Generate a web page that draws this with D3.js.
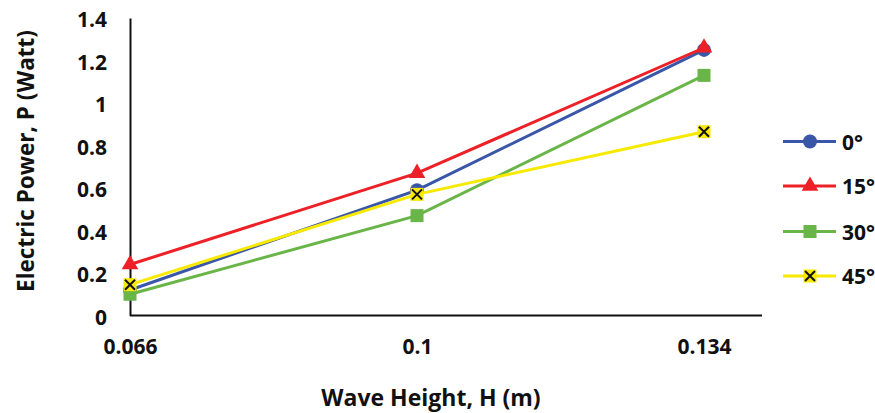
<!DOCTYPE html>
<html><head><meta charset="utf-8">
<script src="https://cdn.jsdelivr.net/npm/d3@7"></script>
<style>body{margin:0;background:#fff}svg{display:block}text{font-family:"Open Sans",Lato,sans-serif;font-weight:bold;fill:#111}</style>
</head><body><svg id="c" width="875" height="413"></svg>
<script>
const categories = ["0.066", "0.1", "0.134"];
const seriesNames = ["0°", "15°", "30°", "45°"];
const values0 = [0.12, 0.59, 1.25];
const values15 = [0.24, 0.67, 1.26];
const values30 = [0.10, 0.47, 1.13];
const values45 = [0.145, 0.57, 0.865];
const yTicks = [0, 0.2, 0.4, 0.6, 0.8, 1, 1.2, 1.4];
const colors = ["#3a56a8", "#ee2027", "#6ab547", "#f7ea00"];
const markers = ["circle", "triangle", "square", "x"];
const allValues = [values0, values15, values30, values45];

(function () {
const svg = d3.select("#c");
const mLeft = 130, mRight = 762, mTop = 18, mBottom = 315.5;
const x = d3.scalePoint().domain(categories).range([mLeft, 704]);
const y = d3.scaleLinear().domain([0, 1.4]).range([mBottom, mTop]);
const FF = '"Open Sans",Lato,sans-serif';

const yAxis = svg.append("g").attr("transform", `translate(${mLeft},0)`)
  .call(d3.axisLeft(y).tickValues(yTicks).tickSize(0).tickPadding(23).tickFormat(d => String(+d.toFixed(1))));
yAxis.select(".domain").attr("stroke", "#111").attr("stroke-width", 2);
yAxis.selectAll("text").attr("font-size", 21).attr("dy", "0.42em").style("font-family", FF).style("font-weight", "bold").attr("fill", "#111");

const xAxis = svg.append("g").attr("transform", `translate(0,${mBottom})`)
  .call(d3.axisBottom(x).tickSize(0).tickPadding(24));
xAxis.select(".domain").attr("d", `M${mLeft},0H${mRight}`).attr("stroke", "#111").attr("stroke-width", 2);
xAxis.selectAll("text").attr("font-size", 21).style("font-family", FF).style("font-weight", "bold").attr("fill", "#111");

svg.append("text").attr("x", 431).attr("y", 406).attr("text-anchor", "middle").attr("font-size", 23).text("Wave Height, H (m)");
svg.append("text").attr("transform", "translate(34,161) rotate(-90)").attr("text-anchor", "middle").attr("font-size", 22.5).text("Electric Power, P (Watt)");

function drawMarker(g, type, color) {
  if (type === "circle") g.append("circle").attr("r", 7).attr("fill", color);
  else if (type === "triangle") g.append("path").attr("d", d3.symbol(d3.symbolTriangle, 120)()).attr("fill", color);
  else if (type === "square") g.append("rect").attr("x", -6.5).attr("y", -6.5).attr("width", 13).attr("height", 13).attr("fill", color);
  else {
    g.append("rect").attr("x", -6.5).attr("y", -6.5).attr("width", 13).attr("height", 13).attr("fill", color);
    g.append("path").attr("d", "M-5,-5L5,5M-5,5L5,-5").attr("stroke", "#111").attr("stroke-width", 2);
  }
}

const line = d3.line().x((d, i) => x(categories[i])).y(d => y(d));
allValues.forEach((vals, s) => {
  const g = svg.append("g");
  g.append("path").attr("d", line(vals)).attr("fill", "none").attr("stroke", colors[s]).attr("stroke-width", 3);
  vals.forEach((v, i) => {
    const m = g.append("g").attr("transform", `translate(${x(categories[i])},${y(v)})`);
    drawMarker(m, markers[s], colors[s]);
  });
});

const legY = [141.5, 186, 231.5, 276];
seriesNames.forEach((name, s) => {
  const g = svg.append("g").attr("transform", `translate(0,${legY[s]})`);
  g.append("line").attr("x1", 783).attr("x2", 836).attr("stroke", colors[s]).attr("stroke-width", 3);
  const m = g.append("g").attr("transform", "translate(810,0)");
  drawMarker(m, markers[s], colors[s]);
  g.append("text").attr("x", 842).attr("y", 8).attr("font-size", 21).text(name);
});
})();
</script></body></html>
